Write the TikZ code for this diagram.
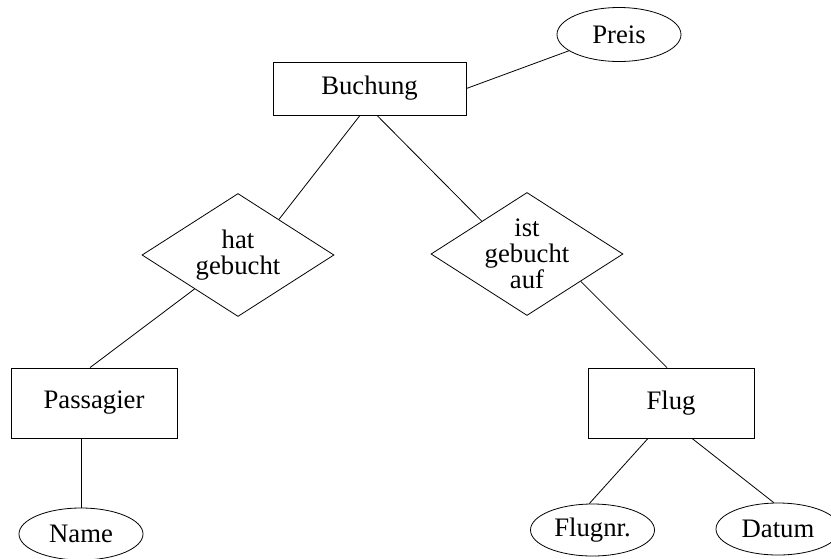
\documentclass[tikz,border=0pt]{standalone}
\usepackage{fontspec}
\setmainfont{Liberation Serif}
\usetikzlibrary{shapes.geometric}
\begin{document}
\begin{tikzpicture}[x=1pt,y=-1pt,
  every node/.style={font=\fontsize{26.7}{25.8}\selectfont, inner sep=0pt, align=center},
  entity/.style={draw, line width=0.8pt, rectangle, minimum width=#1, minimum height=0},
  attr/.style={draw, line width=0.8pt, ellipse, minimum width=124pt, minimum height=52pt},
  relation/.style={draw, line width=0.8pt, diamond, minimum width=192pt, minimum height=123pt},
  link/.style={line width=0.8pt}]
  \useasboundingbox (0,0) rectangle (831,558);

  % entities
  \node[entity=193pt, minimum height=53pt] (buchung) at (369.5,88.5) {Buchung};
  \node[entity=166pt, minimum height=70pt] (pass) at (94,403) {Passagier};
  \node[entity=166pt, minimum height=70pt] (flug) at (671,403) {Flug};

  % relationships: the diamond outline, with its wording set on top
  \node[relation] (hat) at (238,255) {};
  \node (hattext) at (hat.center) {hat\\gebucht};
  \node[relation] (ist) at (527,254) {};
  \node (isttext) at (ist.center) {ist\\gebucht\\auf};

  % attributes
  \node[attr, minimum height=54pt] (preis) at (619,34.5) {Preis};
  \node[attr] (name) at (81,534) {Name};
  \node[attr] (flugnr) at (592.5,530) {Flugnr.};
  \node[attr] (datum) at (778,529) {Datum};

  % connectors
  \draw[link] (buchung.east) -- (preis.198);
  \draw[link] ([xshift=-9.5pt]buchung.south) -- (hat.41);
  \draw[link] ([xshift=7.5pt]buchung.south) -- (ist.144);
  \draw[link] (hat.218) -- ([xshift=-4pt]pass.north);
  \draw[link] (ist.333) -- ([xshift=-4pt]flug.north);
  \draw[link] ([xshift=-13pt]pass.south) -- (name.north);
  \draw[link] ([xshift=-23pt]flug.south) -- (flugnr.97);
  \draw[link] ([xshift=21pt]flug.south) -- (datum.99);
\end{tikzpicture}
\end{document}
